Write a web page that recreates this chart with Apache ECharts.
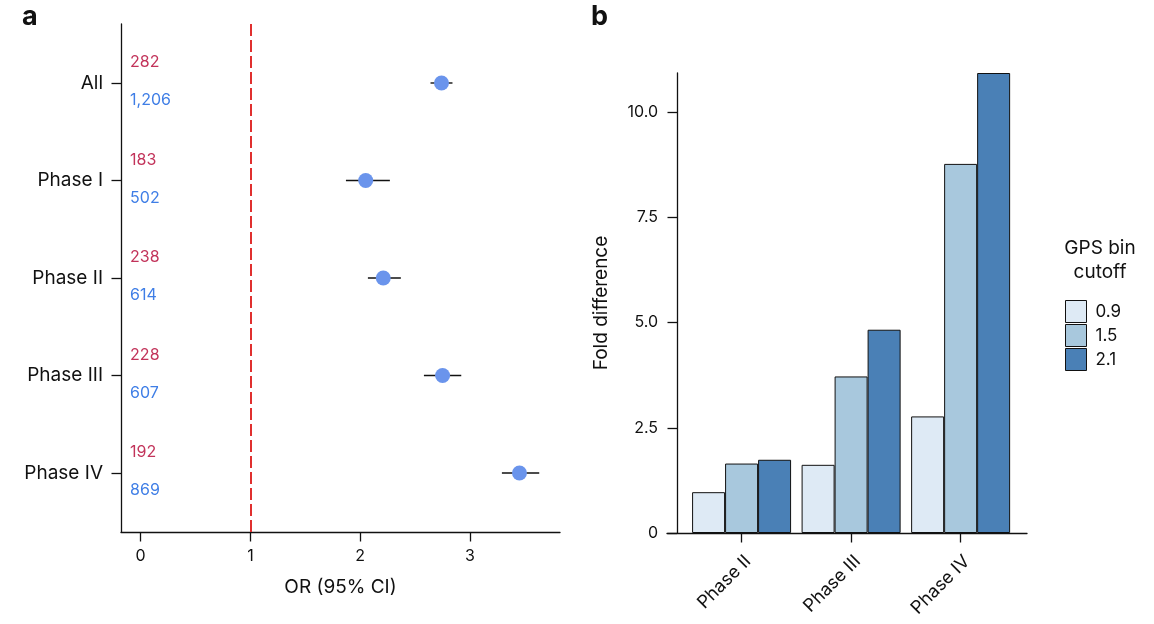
<!DOCTYPE html>
<html>
<head>
<meta charset="utf-8">
<script src="https://cdn.jsdelivr.net/npm/echarts@6/dist/echarts.min.js"></script>
<style>
  html, body { margin: 0; padding: 0; background: #fff; }
  #chart { width: 1154px; height: 624px; }
</style>
</head>
<body>
<div id="chart"></div>
<script>
// panel a: odds ratios per phase
const forestCats = ['All', 'Phase I', 'Phase II', 'Phase III', 'Phase IV'];
const orEst = [2.74, 2.05, 2.21, 2.75, 3.45];
const orLow = [2.64, 1.87, 2.07, 2.58, 3.29];
const orHigh = [2.84, 2.27, 2.37, 2.92, 3.63];
const countsRed = ['282', '183', '238', '228', '192'];
const countsBlue = ['1,206', '502', '614', '607', '869'];
const orTicks = [0, 1, 2, 3];

// panel b: fold difference by GPS bin cutoff
const phases = ['Phase II', 'Phase III', 'Phase IV'];
const cutoffs = ['0.9', '1.5', '2.1'];
const fold09 = [0.97, 1.62, 2.77];
const fold15 = [1.65, 3.72, 8.77];
const fold21 = [1.74, 4.83, 10.93];
const foldTicks = [0, 2.5, 5, 7.5, 10];

const FONT = 'Inter, "Noto Sans", sans-serif';
const INK = '#111';
const barColors = ['#deeaf5', '#a8c8dd', '#4a80b6'];
const foldSeries = [fold09, fold15, fold21];

const catIdx = forestCats.map((c, i) => i + 1);
const phaseIdx = phases.map((p, i) => i + 1);

const myChart = echarts.init(document.getElementById('chart'));

const axisLine = { show: true, onZero: false, lineStyle: { color: INK, width: 1.3 } };
const axisTick = { show: true, length: 9.5, lineStyle: { color: INK, width: 1.3 } };

const barSeries = cutoffs.map((c, k) => ({
  name: c,
  type: 'bar',
  xAxisIndex: 1,
  yAxisIndex: 1,
  barGap: '0%',
  barCategoryGap: '9.6%',
  itemStyle: { color: barColors[k], borderColor: INK, borderWidth: 1 },
  data: foldSeries[k].map((v, i) => [phaseIdx[i], v])
}));

// count labels above (red) and below (blue) each row
const countLabels = (texts, color, shift) => ({
  type: 'scatter',
  xAxisIndex: 0,
  yAxisIndex: 0,
  silent: true,
  symbolSize: 0,
  itemStyle: { opacity: 1 },
  label: {
    show: true,
    position: 'right',
    distance: 0,
    formatter: p => texts[p.dataIndex],
    color: color,
    opacity: 1,
    fontSize: 16,
    fontFamily: FONT
  },
  data: catIdx.map(c => [-0.095, c + shift])
});

myChart.setOption({
  animation: false,
  textStyle: { fontFamily: FONT, color: INK },
  graphic: [
    { type: 'text', x: 22, y: 17, style: { text: 'a', font: 'bold 27px ' + FONT, fill: INK, verticalAlign: 'middle' } },
    { type: 'text', x: 591, y: 17, style: { text: 'b', font: 'bold 27px ' + FONT, fill: INK, verticalAlign: 'middle' } },
    { type: 'text', x: 1100, y: 236, style: { text: 'GPS bin\ncutoff', font: '19px ' + FONT, fill: INK, align: 'center', lineHeight: 24 } }
  ],
  grid: [
    { left: 121, top: 24, width: 439, height: 508 },
    { left: 667, top: 73, width: 360, height: 460 }
  ],
  legend: {
    data: cutoffs,
    orient: 'vertical',
    left: 1060,
    top: 295,
    itemWidth: 21,
    itemHeight: 22,
    itemGap: 1,
    icon: 'rect',
    itemStyle: { borderColor: INK, borderWidth: 1 },
    textStyle: { fontSize: 17, color: INK, fontFamily: FONT, padding: [0, 0, 0, 4] },
    selectedMode: false
  },
  xAxis: [
    {
      gridIndex: 0,
      type: 'value',
      min: -0.178,
      max: 3.819,
      name: 'OR (95% CI)',
      nameLocation: 'middle',
      nameGap: 46,
      nameTextStyle: { fontSize: 19, color: INK },
      axisLine: axisLine,
      axisTick: Object.assign({ customValues: orTicks }, axisTick),
      axisLabel: { customValues: orTicks, fontSize: 16, color: INK, margin: 16 },
      splitLine: { show: false }
    },
    {
      gridIndex: 1,
      type: 'value',
      min: 0.319,
      max: 3.606,
      axisLine: axisLine,
      axisTick: Object.assign({ customValues: phaseIdx }, axisTick),
      axisLabel: {
        customValues: phaseIdx,
        formatter: v => phases[Math.round(v) - 1],
        rotate: 45,
        align: 'right',
        verticalAlign: 'top',
        fontSize: 18,
        color: INK,
        margin: 19
      },
      splitLine: { show: false }
    }
  ],
  yAxis: [
    {
      gridIndex: 0,
      type: 'value',
      inverse: true,
      min: 0.395,
      max: 5.605,
      axisLine: axisLine,
      axisTick: Object.assign({ customValues: catIdx }, axisTick),
      axisLabel: {
        customValues: catIdx,
        formatter: v => forestCats[Math.round(v) - 1],
        fontSize: 19,
        color: INK,
        margin: 18
      },
      splitLine: { show: false }
    },
    {
      gridIndex: 1,
      type: 'value',
      min: 0,
      max: 10.93,
      offset: -10,
      name: 'Fold difference',
      nameLocation: 'middle',
      nameGap: 66,
      nameRotate: 90,
      nameTextStyle: { fontSize: 19, color: INK },
      axisLine: axisLine,
      axisTick: Object.assign({ customValues: foldTicks }, axisTick),
      axisLabel: {
        customValues: foldTicks,
        formatter: v => (v === 0 ? '0' : v.toFixed(1)),
        fontSize: 16,
        color: INK,
        margin: 19
      },
      splitLine: { show: false }
    }
  ],
  series: [
    {
      type: 'custom',
      xAxisIndex: 0,
      yAxisIndex: 0,
      silent: true,
      encode: { x: [0, 1], y: 2 },
      renderItem: (params, api) => {
        const a = api.coord([api.value(0), api.value(2)]);
        const b = api.coord([api.value(1), api.value(2)]);
        return {
          type: 'line',
          shape: { x1: a[0], y1: a[1], x2: b[0], y2: b[1] },
          style: { stroke: INK, lineWidth: 1.4 }
        };
      },
      data: orLow.map((lo, i) => [lo, orHigh[i], catIdx[i]]),
      z: 3
    },
    {
      type: 'scatter',
      xAxisIndex: 0,
      yAxisIndex: 0,
      symbolSize: 15,
      itemStyle: { color: '#6a94ec', opacity: 1 },
      data: orEst.map((v, i) => [v, catIdx[i]]),
      z: 4,
      markLine: {
        silent: true,
        symbol: 'none',
        label: { show: false },
        lineStyle: { color: '#e0302f', width: 2, type: [12, 4] },
        data: [{ xAxis: 1 }]
      }
    },
    countLabels(countsRed, '#c2335a', -0.21),
    countLabels(countsBlue, '#3f7ee6', 0.18)
  ].concat(barSeries)
});

window.addEventListener('resize', () => {
  myChart.resize();
});
</script>
</body>
</html>
